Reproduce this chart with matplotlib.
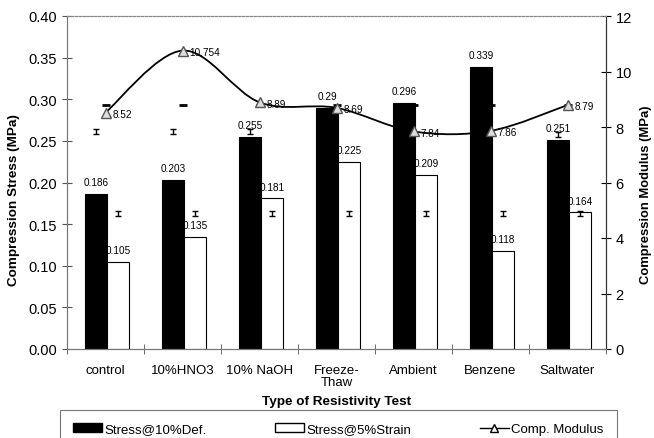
import numpy as np
import matplotlib
matplotlib.use('Agg')
import matplotlib.pyplot as plt
from matplotlib.path import Path
from matplotlib.patches import PathPatch, Patch
from matplotlib.lines import Line2D

plt.rcParams['font.family'] = ['Liberation Sans', 'DejaVu Sans']

# Datos
categorias = ['control', '10%HNO3', '10% NaOH', 'Freeze-\nThaw', 'Ambient', 'Benzene', 'Saltwater']
stress_10def = [0.186, 0.203, 0.255, 0.29, 0.296, 0.339, 0.251]
stress_5strain = [0.105, 0.135, 0.181, 0.225, 0.209, 0.118, 0.164]
modulo = [8.52, 10.754, 8.89, 8.69, 7.84, 7.86, 8.79]
etiquetas_modulo = ['8.52', '10.754', '8.89', '8.69', '7.84', '7.86', '8.79']
# marcas de error (desplazadas en el original)
err_negro_y = [0.261, 0.261, 0.261, 0.261, 0.261, 0.261, 0.258]
err_blanco_y = [0.163, 0.163, 0.163, 0.163, 0.163, 0.163, 0.163]
guion_y = [0.293, 0.293, 0.293, 0.293, 0.293, 0.293, 0.293]

x = np.arange(len(categorias))
ancho = 0.287

fig = plt.figure(figsize=(6.54, 4.39), dpi=100)
ax = fig.add_axes([67/654, 1-350/439, (606-67)/654, (350-17)/439])
ax2 = ax.twinx()

ax.bar(x - 0.123, stress_10def, ancho, color='black', edgecolor='black', linewidth=0.8, zorder=2)
ax.bar(x + 0.162, stress_5strain, ancho, color='white', edgecolor='black', linewidth=0.8, zorder=2)

ax.errorbar(x - 0.123, err_negro_y, yerr=0.003, fmt='none', ecolor='black',
            elinewidth=1, capsize=2.5, capthick=1, zorder=1)
ax.errorbar(x + 0.162, err_blanco_y, yerr=0.003, fmt='none', ecolor='black',
            elinewidth=1, capsize=2.5, capthick=1, zorder=3)
ax.plot(x + 0.01, guion_y, ls='none', marker='_', ms=6, mew=2, color='black', zorder=1)

for i in range(len(x)):
    ax.text(x[i] - 0.123, stress_10def[i] + 0.008, f'{stress_10def[i]:g}', ha='center', va='bottom', fontsize=7.2)
    ax.text(x[i] + 0.162, stress_5strain[i] + 0.008, f'{stress_5strain[i]:g}', ha='center', va='bottom', fontsize=7.2)

ax.set_ylim(0, 0.40)
ax.set_yticks(np.arange(0, 0.41, 0.05))
ax.set_yticklabels([f'{v:.2f}' for v in np.arange(0, 0.41, 0.05)], fontsize=10.5)
ax.set_xlim(-0.5, len(x) - 0.5)
ax.set_xticks(x)
ax.set_xticklabels(categorias, fontsize=9.5, linespacing=0.95)
ax.set_xticks(np.arange(-0.5, len(x), 1), minor=True)
ax.tick_params(axis='x', which='major', length=0, pad=11)
ax.tick_params(axis='x', which='minor', length=7, direction='inout', color='#555555')
ax.tick_params(axis='y', length=7, direction='inout', color='#555555')
ax.set_ylabel('Compression Stress (MPa)', fontsize=9.7, fontweight='bold')
ax.yaxis.set_label_coords(-0.087, 0.45)
ax.set_xlabel('Type of Resistivity Test', fontsize=9.7, fontweight='bold')
ax.xaxis.set_label_coords(0.5, -0.138)

# linea suavizada del modulo (estilo Excel)
pts = np.column_stack([x, modulo]).astype(float)
verts = [pts[0]]
codes = [Path.MOVETO]
for i in range(len(pts) - 1):
    p0 = pts[max(i - 1, 0)]
    p1 = pts[i]
    p2 = pts[i + 1]
    p3 = pts[min(i + 2, len(pts) - 1)]
    c1 = p1 + (p2 - p0) / 6
    c2 = p2 - (p3 - p1) / 6
    verts += [c1, c2, p2]
    codes += [Path.CURVE4] * 3
ax2.add_patch(PathPatch(Path(verts, codes), fill=False, edgecolor='black', lw=1.3, zorder=4))
ax2.plot(x, modulo, ls='none', marker='^', ms=7, mfc='#dddddd', mec='#555555', mew=1, zorder=5)
for i in range(len(x)):
    ax2.annotate(etiquetas_modulo[i], (x[i], modulo[i]), xytext=(5, -1), textcoords='offset points',
                 ha='left', va='center', fontsize=7.2)

ax2.set_ylim(0, 12)
ax2.set_yticks(range(0, 13, 2))
ax2.tick_params(axis='y', length=7, direction='inout', labelsize=10.5)
ax2.set_ylabel('Compression Modulus (MPa)', fontsize=9.4, fontweight='bold', rotation=90)
ax2.yaxis.set_label_coords(1.063, 0.465)

for a in (ax, ax2):
    a.spines['top'].set_linestyle((0, (2, 1.5)))
    a.spines['top'].set_color('#888888')
    a.spines['left'].set_color('#777777')
    a.spines['bottom'].set_color('#777777')
    a.spines['right'].set_color('#333333')

handles = [Patch(facecolor='black', edgecolor='black'),
           Patch(facecolor='white', edgecolor='black'),
           Line2D([], [], color='black', marker='^', mfc='white', ms=6, lw=1)]
leg = fig.legend(handles, ['Stress@10%Def.', 'Stress@5%Strain', 'Comp. Modulus'],
                 loc='upper left', bbox_to_anchor=(60/654, 1-411/439, (617-60)/654, 0.0),
                 mode='expand', ncol=3, fontsize=9.5, fancybox=False, edgecolor='#555555',
                 borderpad=1.0, borderaxespad=0, handlelength=2.2, handletextpad=0.2)
leg.get_frame().set_linewidth(0.8)

fig.savefig('out.png', dpi=100)
